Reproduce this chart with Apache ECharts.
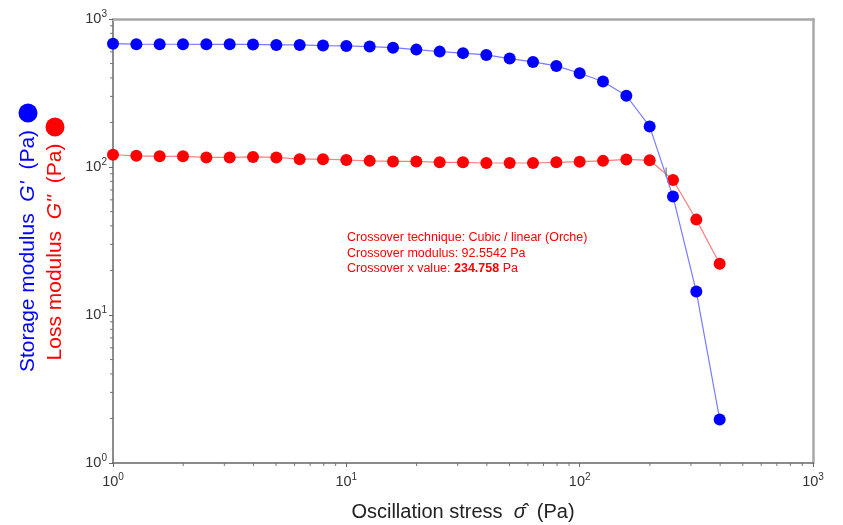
<!DOCTYPE html>
<html>
<head>
<meta charset="utf-8">
<script src="https://cdn.jsdelivr.net/npm/echarts@6/dist/echarts.min.js"></script>
<style>html,body{margin:0;padding:0;background:#fff;}#c{width:843px;height:525px;}</style>
</head>
<body>
<div id="c"></div>
<script>
// Oscillation stress (Pa)
const stress = [1, 1.259, 1.585, 1.995, 2.512, 3.162, 3.981, 5.012, 6.310, 7.943,
  10, 12.59, 15.85, 19.95, 25.12, 31.62, 39.81, 50.12, 63.10, 79.43,
  100, 125.9, 158.5, 199.5, 251.2, 316.2, 398.1];
// Storage modulus G' (Pa)
const gStorage = [681, 676, 675, 675, 674, 674, 673, 668, 668, 661,
  658, 651, 640, 621, 602, 588, 572, 540, 513, 482,
  430, 378, 303, 188, 63.1, 14.4, 1.97];
// Loss modulus G'' (Pa)
const gLoss = [121, 119, 118, 118, 116, 116, 117, 116, 113, 113,
  111.5, 110, 109, 109, 107.5, 107.5, 106.4, 106.4, 106.4, 107.5,
  108.6, 110, 112.5, 111, 81.6, 44.1, 22.2];
const crossover = [234.758, 92.5542];
const crossoverLines = [
  'Crossover technique: Cubic / linear (Orche)',
  'Crossover modulus: 92.5542 Pa',
  'Crossover x value: {b|234.758} Pa'
];
const minorValues = [];
[1, 10, 100].forEach(d => { for (let k = 2; k <= 9; k++) minorValues.push(k * d); });

const FONT = "'Liberation Sans', Arial, sans-serif";
const chart = echarts.init(document.getElementById('c'), null, {renderer: 'canvas'});

const tickLabel = {
  color: '#333', fontSize: 14.5, fontFamily: FONT,
  formatter: v => '10{s|' + Math.round(Math.log10(v)) + '}',
  rich: { s: { fontSize: 10, fontFamily: FONT, color: '#333', padding: [0, 0, 9, 0] } }
};

chart.setOption({
  animation: false,
  backgroundColor: '#fff',
  grid: { left: 113, right: 30, top: 19, bottom: 62, containLabel: false },
  xAxis: [{
    type: 'log', logBase: 10, min: 1, max: 1000,
    axisLine: { show: true, lineStyle: { color: '#666', width: 1.5 } },
    axisTick: { show: true, length: 4, lineStyle: { color: '#666' } },
    splitLine: { show: false },
    axisLabel: Object.assign({ margin: 9 }, tickLabel)
  }, {
    type: 'log', logBase: 10, min: 1, max: 1000, position: 'top',
    axisLine: { show: true, lineStyle: { color: '#a8a8a8', width: 2.5 } },
    axisTick: { show: false }, axisLabel: { show: false }, splitLine: { show: false }
  }],
  yAxis: [{
    type: 'log', logBase: 10, min: 1, max: 1000,
    axisLine: { show: true, lineStyle: { color: '#666', width: 1.5 } },
    axisTick: { show: true, length: 4, lineStyle: { color: '#666' } },
    splitLine: { show: false },
    axisLabel: Object.assign({ margin: 6 }, tickLabel)
  }, {
    type: 'log', logBase: 10, min: 1, max: 1000, position: 'right',
    axisLine: { show: true, lineStyle: { color: '#a8a8a8', width: 2.5 } },
    axisTick: { show: false }, axisLabel: { show: false }, splitLine: { show: false }
  }],
  series: [
    {
      type: 'custom', silent: true, clip: false, z: 1,
      data: minorValues.map(v => [v, 1]),
      renderItem: (params, api) => {
        const p = api.coord([api.value(0), 1]);
        return { type: 'line', shape: { x1: p[0], y1: p[1], x2: p[0], y2: p[1] + 3 },
          style: { stroke: '#777', lineWidth: 1 } };
      }
    },
    {
      type: 'custom', silent: true, clip: false, z: 1,
      data: minorValues.map(v => [1, v]),
      renderItem: (params, api) => {
        const p = api.coord([1, api.value(1)]);
        return { type: 'line', shape: { x1: p[0] - 3, y1: p[1], x2: p[0], y2: p[1] },
          style: { stroke: '#777', lineWidth: 1 } };
      }
    },
    {
      name: "G''", type: 'line', data: stress.map((x, i) => [x, gLoss[i]]),
      symbol: 'circle', symbolSize: 12, showSymbol: true,
      lineStyle: { color: '#ff7f7f', width: 1.2 },
      itemStyle: { color: '#ff0000' }, z: 3
    },
    {
      name: "G'", type: 'line', data: stress.map((x, i) => [x, gStorage[i]]),
      symbol: 'circle', symbolSize: 12, showSymbol: true,
      lineStyle: { color: '#7a7aff', width: 1.2 },
      itemStyle: { color: '#0000ff' }, z: 4
    },
    {
      type: 'scatter', data: [crossover], symbol: 'rect', symbolSize: [1.5, 9],
      itemStyle: { color: '#777' }, z: 5, silent: true
    }
  ],
  graphic: [
    { type: 'circle', shape: { cx: 28, cy: 113, r: 9.5 }, style: { fill: '#0000ff' } },
    { type: 'circle', shape: { cx: 55, cy: 127, r: 9.5 }, style: { fill: '#ff0000' } },
    {
      type: 'text', x: 28, y: 251, rotation: Math.PI / 2,
      style: {
        text: "Storage modulus  {i|G'}  (Pa)", fill: '#0000ff', fontSize: 21, fontFamily: FONT,
        align: 'center', verticalAlign: 'middle',
        rich: { i: { fontStyle: 'italic', fontSize: 21, fontFamily: FONT, fill: '#0000ff' } }
      }
    },
    {
      type: 'text', x: 55, y: 252, rotation: Math.PI / 2,
      style: {
        text: "Loss modulus  {i|G''}  (Pa)", fill: '#ff0000', fontSize: 21, fontFamily: FONT,
        align: 'center', verticalAlign: 'middle',
        rich: { i: { fontStyle: 'italic', fontSize: 21, fontFamily: FONT, fill: '#ff0000' } }
      }
    },
    {
      type: 'text', x: 463, y: 512,
      style: {
        text: 'Oscillation stress  {i|σ̂}  (Pa)', fill: '#222', fontSize: 20, fontFamily: FONT,
        align: 'center', verticalAlign: 'middle',
        rich: { i: { fontStyle: 'italic', fontSize: 20, fontFamily: FONT, fill: '#222' } }
      }
    },
    {
      type: 'text', x: 347, y: 230,
      style: {
        text: crossoverLines.join('\n'), fill: '#ff0000', fontSize: 12.5, fontFamily: FONT,
        lineHeight: 15.5, align: 'left', verticalAlign: 'top',
        rich: { b: { fontWeight: 'bold', fontSize: 12.5, fontFamily: FONT, fill: '#ff0000', lineHeight: 15.5 } }
      }
    }
  ]
});
</script>
</body>
</html>
